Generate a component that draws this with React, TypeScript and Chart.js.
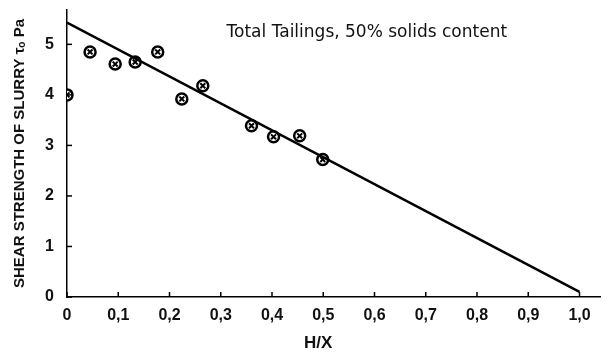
import React, { useEffect, useRef } from "react";
import { Chart, registerables } from "chart.js";

Chart.register(...registerables);

const measuredX = [0, 0.045, 0.094, 0.133, 0.177, 0.224, 0.265, 0.36, 0.403, 0.454, 0.499];
const measuredY = [4.0, 4.85, 4.61, 4.65, 4.85, 3.92, 4.18, 3.39, 3.17, 3.19, 2.72];
const fitX = [0, 1.0];
const fitY = [5.43, 0.1];
const xTickLabels = ["0", "0,1", "0,2", "0,3", "0,4", "0,5", "0,6", "0,7", "0,8", "0,9", "1,0"];
const yTickLabels = ["0", "1", "2", "3", "4", "5"];
const chartTitle = "Total Tailings, 50% solids content";
const xTitle = "H/X";
const yTitle = "SHEAR STRENGTH OF SLURRY τₒ Pa";

const FONT = "'Liberation Sans', Arial, sans-serif";

const extras = {
  id: "extras",
  afterDraw(chart: any) {
    const ctx = chart.ctx;
    const xs = chart.scales.x;
    const ys = chart.scales.y;
    const area = chart.chartArea;
    ctx.save();
    ctx.strokeStyle = "#000";
    ctx.lineWidth = 1.5;
    xs.ticks.forEach((t: any) => {
      const px = xs.getPixelForValue(t.value);
      ctx.beginPath();
      ctx.moveTo(px, area.bottom);
      ctx.lineTo(px, area.bottom - 5);
      ctx.stroke();
    });
    ys.ticks.forEach((t: any) => {
      const py = ys.getPixelForValue(t.value);
      ctx.beginPath();
      ctx.moveTo(area.left, py);
      ctx.lineTo(area.left + 5, py);
      ctx.stroke();
    });
    ctx.fillStyle = "#111";
    ctx.textAlign = "center";
    ctx.textBaseline = "middle";
    ctx.font = `17px 'DejaVu Sans', sans-serif`;
    ctx.fillText(chartTitle, xs.getPixelForValue(0.585), ys.getPixelForValue(5.23));
    ctx.font = `bold 17px ${FONT}`;
    ctx.fillText(xTitle, xs.getPixelForValue(0.49), 343);
    ctx.restore();
  },
};

export default function App() {
  const ref = useRef<HTMLCanvasElement | null>(null);
  useEffect(() => {
    if (!ref.current) return;
    const chart = new Chart(ref.current, {
      type: "scatter",
      data: {
        datasets: [
          {
            type: "line",
            data: fitX.map((x, i) => ({ x, y: fitY[i] })),
            borderColor: "#000",
            borderWidth: 2.5,
            pointRadius: 0,
            order: 0,
          },
          {
            data: measuredX.map((x, i) => ({ x, y: measuredY[i] })),
            pointStyle: "circle",
            pointRadius: 5.5,
            borderWidth: 2.5,
            borderColor: "#000",
            backgroundColor: "#fff",
            order: 2,
          },
          {
            data: measuredX.map((x, i) => ({ x, y: measuredY[i] })),
            pointStyle: "crossRot",
            pointRadius: 3.5,
            borderWidth: 2,
            borderColor: "#000",
            backgroundColor: "#000",
            order: 1,
          },
        ],
      },
      options: {
        responsive: false,
        animation: false,
        layout: { padding: { top: 10, right: 8, left: 0, bottom: 0 } },
        plugins: { legend: { display: false }, tooltip: { enabled: false }, title: { display: false } },
        scales: {
          x: {
            type: "linear",
            min: 0,
            max: 1.04,
            grid: { display: false, drawTicks: false },
            border: { display: true, color: "#000", width: 1.5 },
            ticks: {
              stepSize: 0.1,
              includeBounds: false,
              padding: 9,
              color: "#111",
              font: { family: FONT, size: 16, weight: "bold" },
              maxRotation: 0,
              autoSkip: false,
              callback: (_v: any, i: number) => xTickLabels[i] ?? "",
            },
            afterFit: (s: any) => {
              s.height = 55;
              s.paddingLeft = 0;
              s.paddingRight = 0;
            },
          },
          y: {
            type: "linear",
            min: 0,
            max: 5.68,
            grid: { display: false, drawTicks: false },
            border: { display: true, color: "#000", width: 1.5 },
            ticks: {
              stepSize: 1,
              includeBounds: false,
              padding: 13,
              color: "#111",
              font: { family: FONT, size: 16, weight: "bold" },
              callback: (_v: any, i: number) => yTickLabels[i] ?? "",
            },
            title: {
              display: true,
              text: yTitle,
              color: "#111",
              font: { family: FONT, size: 15, weight: "bold" },
              padding: { top: 11, bottom: 0 },
            },
            afterFit: (s: any) => {
              s.width = 67;
              s.paddingTop = 0;
              s.paddingBottom = 0;
            },
          },
        },
      },
      plugins: [extras],
    });
    return () => chart.destroy();
  }, []);
  return (
    <div style={{ position: "absolute", left: 0, top: 0, width: 608, height: 352, background: "#fff" }}>
      <canvas ref={ref} width={608} height={352} />
    </div>
  );
}
